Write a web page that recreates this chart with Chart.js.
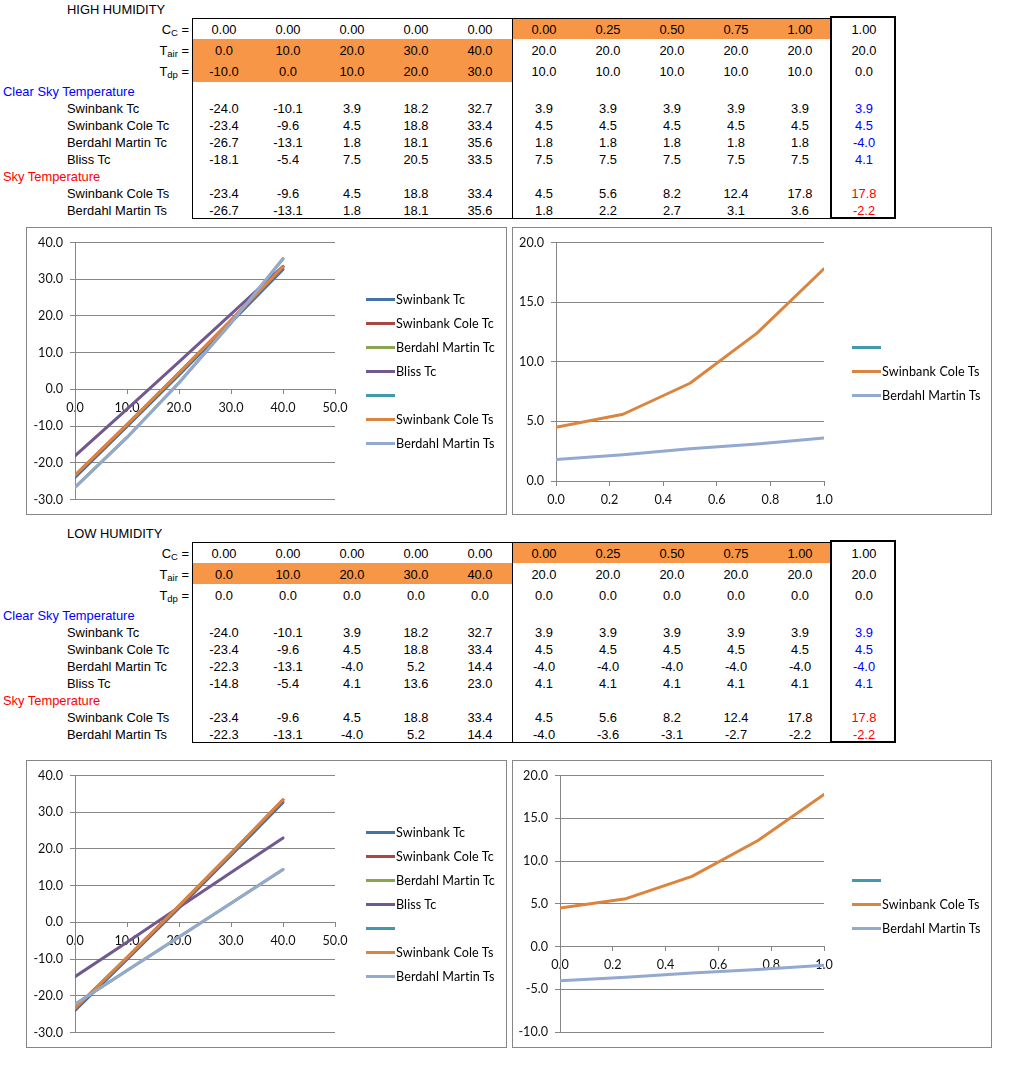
<!DOCTYPE html>
<html><head><meta charset="utf-8">
<script src="https://cdn.jsdelivr.net/npm/chart.js@4.4.0/dist/chart.umd.min.js"></script>
<style>
html,body{margin:0;padding:0;background:#fff;}
#page{position:relative;width:1025px;height:1066px;overflow:hidden;font-family:"Liberation Sans",Arial,sans-serif;font-size:12.9px;color:#000;}
.fill{position:absolute;background:#F79646;}
.cell{position:absolute;text-align:center;white-space:nowrap;}
.lbl{position:absolute;white-space:nowrap;}
.rlbl{position:absolute;white-space:nowrap;text-align:right;}
.rlbl sub{font-size:9.5px;vertical-align:-2px;line-height:0;}
.box{position:absolute;border:1px solid #868686;box-sizing:border-box;background:#fff;}
.box canvas{position:absolute;left:0;top:0;}
.legend{position:absolute;left:339px;top:0;bottom:0;display:flex;flex-direction:column;justify-content:center;font-family:Lato,"Open Sans",sans-serif;font-size:12.6px;color:#000;letter-spacing:0.1px;}
.li{height:24px;display:flex;align-items:center;white-space:nowrap;}
.li i{display:inline-block;width:29px;height:3px;margin-right:1px;}
</style></head>
<body><div id="page"></div>
<script>
// ---------------- data ----------------
const seriesNames = ["Swinbank Tc","Swinbank Cole Tc","Berdahl Martin Tc","Bliss Tc","Swinbank Cole Ts","Berdahl Martin Ts"];
const ccValues   = [0.00,0.00,0.00,0.00,0.00,0.00,0.25,0.50,0.75,1.00,1.00];
const tairValues = [0.0,10.0,20.0,30.0,40.0,20.0,20.0,20.0,20.0,20.0,20.0];

const hhTdp            = [-10.0,0.0,10.0,20.0,30.0,10.0,10.0,10.0,10.0,10.0,0.0];
const hhSwinbankTc     = [-24.0,-10.1,3.9,18.2,32.7,3.9,3.9,3.9,3.9,3.9,3.9];
const hhSwinbankColeTc = [-23.4,-9.6,4.5,18.8,33.4,4.5,4.5,4.5,4.5,4.5,4.5];
const hhBerdahlTc      = [-26.7,-13.1,1.8,18.1,35.6,1.8,1.8,1.8,1.8,1.8,-4.0];
const hhBlissTc        = [-18.1,-5.4,7.5,20.5,33.5,7.5,7.5,7.5,7.5,7.5,4.1];
const hhSwinbankColeTs = [-23.4,-9.6,4.5,18.8,33.4,4.5,5.6,8.2,12.4,17.8,17.8];
const hhBerdahlTs      = [-26.7,-13.1,1.8,18.1,35.6,1.8,2.2,2.7,3.1,3.6,-2.2];

const lhTdp            = [0.0,0.0,0.0,0.0,0.0,0.0,0.0,0.0,0.0,0.0,0.0];
const lhSwinbankTc     = [-24.0,-10.1,3.9,18.2,32.7,3.9,3.9,3.9,3.9,3.9,3.9];
const lhSwinbankColeTc = [-23.4,-9.6,4.5,18.8,33.4,4.5,4.5,4.5,4.5,4.5,4.5];
const lhBerdahlTc      = [-22.3,-13.1,-4.0,5.2,14.4,-4.0,-4.0,-4.0,-4.0,-4.0,-4.0];
const lhBlissTc        = [-14.8,-5.4,4.1,13.6,23.0,4.1,4.1,4.1,4.1,4.1,4.1];
const lhSwinbankColeTs = [-23.4,-9.6,4.5,18.8,33.4,4.5,5.6,8.2,12.4,17.8,17.8];
const lhBerdahlTs      = [-22.3,-13.1,-4.0,5.2,14.4,-4.0,-3.6,-3.1,-2.7,-2.2,-2.2];

const tempTicks = [-30,-20,-10,0,10,20,30,40];
const tairTicks = [0,10,20,30,40,50];
const ccTicks   = [0,0.2,0.4,0.6,0.8,1.0];
const hhTsTicks = [0,5,10,15,20];
const lhTsTicks = [-10,-5,0,5,10,15,20];

const seriesColors = ["#4572A7","#AA4643","#89A54E","#71588F","#4198AF","#DB843D","#93A9CF"];

// ---------------- tables ----------------
const page = document.getElementById('page');
function el(cls, css, html){
  const d=document.createElement('div'); d.className=cls;
  Object.assign(d.style, css); if(html!==undefined) d.innerHTML=html; page.appendChild(d); return d;
}
function buildTable(top, title, tdp, series, fillTdp){
  const rows = {title:[0,18],cc:[18,21],tair:[39,21],tdp:[60,22],clear:[82,17],
    s0:[99,17],s1:[116,17],s2:[133,17],s3:[150,17],sky:[167,17],s4:[184,17],s5:[201,17]};
  // fills
  el('fill',{left:'192px',top:(top+39)+'px',width:'320px',height:(fillTdp?43:21)+'px'});
  el('fill',{left:'512px',top:(top+18)+'px',width:'318px',height:'21px'});
  // borders
  el('',{position:'absolute',left:'192px',top:(top+18)+'px',width:'639px',height:'201px',border:'1px solid #000',boxSizing:'border-box'});
  el('',{position:'absolute',left:'512px',top:(top+18)+'px',width:'1px',height:'200px',background:'#000'});
  el('',{position:'absolute',left:'830px',top:(top+16)+'px',width:'66px',height:'203px',border:'2px solid #000',boxSizing:'border-box'});
  const rowCss = r => ({top:(top+rows[r][0]+0.5)+'px',height:rows[r][1]+'px',lineHeight:rows[r][1]+'px'});
  el('lbl',Object.assign({left:'67px'},rowCss('title')),title);
  el('rlbl',Object.assign({left:'100px',width:'89px'},rowCss('cc')),'C<sub>C</sub> =');
  el('rlbl',Object.assign({left:'100px',width:'89px'},rowCss('tair')),'T<sub>air</sub> =');
  el('rlbl',Object.assign({left:'100px',width:'89px'},rowCss('tdp')),'T<sub>dp</sub> =');
  el('lbl',Object.assign({left:'3px',color:'#0000FF'},rowCss('clear')),'Clear Sky Temperature');
  el('lbl',Object.assign({left:'3px',color:'#FF0000'},rowCss('sky')),'Sky Temperature');
  const put=(r,vals,dec,colorLast)=>{
    vals.forEach((v,j)=>{
      const css=Object.assign({left:(192+64*j)+'px',width:'64px'},rowCss(r));
      if(j===10 && colorLast) css.color=colorLast;
      el('cell',css,v.toFixed(dec));
    });
  };
  put('cc',ccValues,2); put('tair',tairValues,1); put('tdp',tdp,1);
  ['s0','s1','s2','s3','s4','s5'].forEach((r,i)=>{
    el('lbl',Object.assign({left:'67px'},rowCss(r)),seriesNames[i]);
    put(r,series[i],1,i<4?'#0000FF':'#FF0000');
  });
}
buildTable(0,'HIGH HUMIDITY',hhTdp,[hhSwinbankTc,hhSwinbankColeTc,hhBerdahlTc,hhBlissTc,hhSwinbankColeTs,hhBerdahlTs],true);
buildTable(524,'LOW HUMIDITY',lhTdp,[lhSwinbankTc,lhSwinbankColeTc,lhBerdahlTc,lhBlissTc,lhSwinbankColeTs,lhBerdahlTs],false);

// ---------------- charts ----------------
const tickFont = {family:'Lato, "Open Sans", sans-serif', size:12.6};
function ds(label, xs, ys, color, idx){
  return {label, data: xs.map((x,i)=>({x, y: ys[i]})), borderColor:color, backgroundColor:color,
    borderWidth:3, showLine:true, pointRadius:0, pointHoverRadius:0, order:10-idx,
    borderCapStyle:'round', borderJoinStyle:'round'};
}
function makeChart(box, datasets, xTicks, yTicks, pad){
  const d = el('box',{left:box.left+'px',top:box.top+'px',width:box.w+'px',height:box.h+'px'});
  const cv = document.createElement('canvas');
  const cw = box.w-2, ch = box.h-2;
  cv.width=cw; cv.height=ch; cv.style.width=cw+'px'; cv.style.height=ch+'px';
  d.appendChild(cv);
  const lg = document.createElement('div'); lg.className='legend'; d.appendChild(lg);
  datasets.forEach(s=>{
    const it=document.createElement('div'); it.className='li';
    it.innerHTML='<i style="background:'+s.borderColor+'"></i><span>'+s.label+'</span>';
    lg.appendChild(it);
  });
  new Chart(cv,{
    type:'scatter',
    data:{datasets},
    options:{
      responsive:false, animation:false, devicePixelRatio:1,
      layout:{padding:{left:0,top:pad.top,right:pad.right,bottom:pad.bottom}},
      plugins:{legend:{display:false},tooltip:{enabled:false}},
      events:[],
      scales:{
        x:{type:'linear',position:{y:0},min:xTicks[0],max:xTicks[xTicks.length-1],
          afterBuildTicks:s=>{s.ticks=xTicks.map(v=>({value:v}));},
          ticks:{callback:v=>Number(v).toFixed(1),font:tickFont,color:'#111',padding:7,maxRotation:0,autoSkip:false},
          grid:{display:true,drawOnChartArea:false,drawTicks:true,tickLength:4,color:'#868686'},
          border:{display:true,color:'#868686'}},
        y:{type:'linear',min:yTicks[0],max:yTicks[yTicks.length-1],
          afterBuildTicks:s=>{s.ticks=yTicks.map(v=>({value:v}));},
          ticks:{callback:v=>Number(v).toFixed(1),font:tickFont,color:'#111',padding:7,autoSkip:false},
          grid:{color:'#868686',tickLength:5,drawTicks:true},
          border:{display:true,color:'#868686'},
          afterFit:s=>{s.width=pad.left;}}
      }
    }
  });
}
const L5 = a => a.slice(0,5);
const R5 = a => a.slice(5,10);

makeChart({left:26,top:227,w:481,h:288},[
  ds(seriesNames[0],L5(tairValues),L5(hhSwinbankTc),seriesColors[0],0),
  ds(seriesNames[1],L5(tairValues),L5(hhSwinbankColeTc),seriesColors[1],1),
  ds(seriesNames[2],L5(tairValues),L5(hhBerdahlTc),seriesColors[2],2),
  ds(seriesNames[3],L5(tairValues),L5(hhBlissTc),seriesColors[3],3),
  ds('',[],[],seriesColors[4],4),
  ds(seriesNames[4],L5(tairValues),L5(hhSwinbankColeTs),seriesColors[5],5),
  ds(seriesNames[5],L5(tairValues),L5(hhBerdahlTs),seriesColors[6],6)
], tairTicks, tempTicks, {left:48,top:13,right:171,bottom:14});

makeChart({left:512,top:227,w:480,h:288},[
  ds('',[],[],seriesColors[4],0),
  ds(seriesNames[4],R5(ccValues),R5(hhSwinbankColeTs),seriesColors[5],1),
  ds(seriesNames[5],R5(ccValues),R5(hhBerdahlTs),seriesColors[6],2)
], ccTicks, hhTsTicks, {left:43,top:13,right:167,bottom:33});

makeChart({left:26,top:760,w:481,h:288},[
  ds(seriesNames[0],L5(tairValues),L5(lhSwinbankTc),seriesColors[0],0),
  ds(seriesNames[1],L5(tairValues),L5(lhSwinbankColeTc),seriesColors[1],1),
  ds(seriesNames[2],L5(tairValues),L5(lhBerdahlTc),seriesColors[2],2),
  ds(seriesNames[3],L5(tairValues),L5(lhBlissTc),seriesColors[3],3),
  ds('',[],[],seriesColors[4],4),
  ds(seriesNames[4],L5(tairValues),L5(lhSwinbankColeTs),seriesColors[5],5),
  ds(seriesNames[5],L5(tairValues),L5(lhBerdahlTs),seriesColors[6],6)
], tairTicks, tempTicks, {left:48,top:13,right:171,bottom:14});

makeChart({left:512,top:760,w:480,h:288},[
  ds('',[],[],seriesColors[4],0),
  ds(seriesNames[4],R5(ccValues),R5(lhSwinbankColeTs),seriesColors[5],1),
  ds(seriesNames[5],R5(ccValues),R5(lhBerdahlTs),seriesColors[6],2)
], ccTicks, lhTsTicks, {left:47,top:12,right:167,bottom:15});
</script>
</body></html>
